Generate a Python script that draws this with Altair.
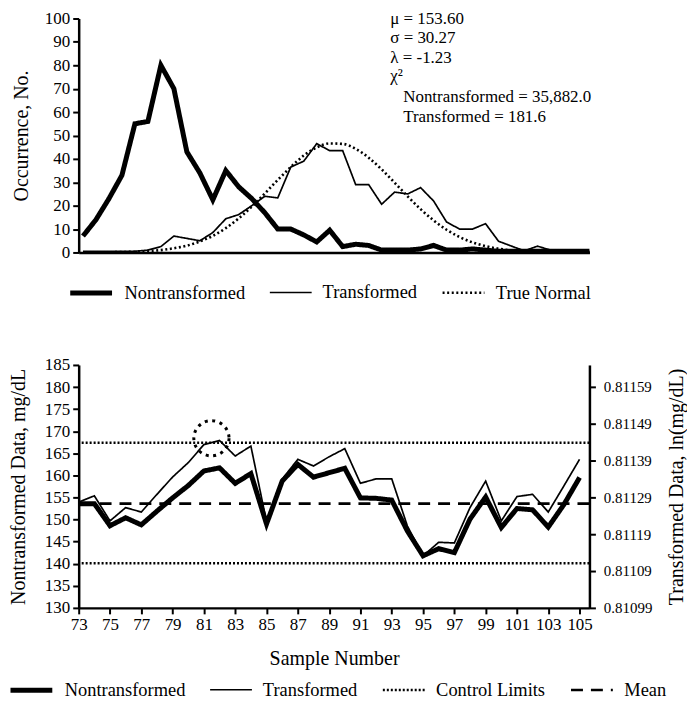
import altair as alt
import pandas as pd

FONT = "Liberation Serif"

# ---------------- top panel data ----------------
BINS = list(range(1, 41))
NONTRANSFORMED = [7, 14, 23, 33, 55, 56, 80, 70, 43, 34,
                  22.5, 35, 28, 23, 17, 10, 10, 7.5, 4.5, 9.5,
                  2.5, 3.5, 3, 1, 1, 1, 1.5, 3, 1, 1,
                  1.5, 1, 0.5, 0.5, 0.5, 0.5, 0.5, 0.5, 0.5, 0.5]
TRANSFORMED = [0.5, 0.5, 0.5, 0.5, 0.5, 1, 2.5, 7, 6, 5,
               8.5, 14.4, 16.2, 20, 24, 23.3, 36.5, 39, 46.5, 43.5,
               43.5, 29, 29, 20.6, 25.8, 25, 27.7, 22, 13, 10,
               10, 12.3, 4.8, 2.7, 0.7, 2.7, 1, 0.5, 0.5, 0.5]
TRUE_NORMAL = [0.1, 0.1, 0.1, 0.2, 0.3, 0.6, 1.0, 1.8, 2.9, 4.7,
               7.1, 10.4, 14.6, 19.6, 25.2, 31.0, 36.5, 41.4, 44.9, 46.6,
               46.4, 44.3, 40.5, 35.5, 29.8, 24.0, 18.5, 13.7, 9.7, 6.6,
               4.3, 2.7, 1.6, 0.9, 0.5, 0.3, 0.2, 0.1, 0.1, 0.1]
TOP_SERIES = ["Nontransformed", "Transformed", "True Normal"]
TOP_Y_TICKS = [0, 10, 20, 30, 40, 50, 60, 70, 80, 90, 100]
STATS_LINES = ["μ = 153.60", "σ = 30.27", "λ = -1.23", "χ²",
               "Nontransformed = 35,882.0", "Transformed = 181.6"]

# ---------------- bottom panel data ----------------
SAMPLES = list(range(73, 106))
NT_DATA = [153.6, 153.6, 148.6, 150.4, 148.8, 151.9, 154.9, 157.7, 161.0, 161.7,
           158.2, 160.4, 149.0, 158.7, 162.5, 159.6, 160.6, 161.6, 154.9, 154.8,
           154.4, 147.4, 141.8, 143.4, 142.5, 150.1, 155.1, 148.2, 152.5, 152.2,
           148.3, 153.4, 159.5]
T_DATA = [0.811277, 0.811294, 0.811226, 0.811262, 0.811250, 0.811298, 0.811345,
          0.811384, 0.811433, 0.811444, 0.811402, 0.811429, 0.811224, 0.811339,
          0.811393, 0.811375, 0.811400, 0.811422, 0.811328, 0.811340, 0.811340,
          0.811212, 0.811131, 0.811168, 0.811166, 0.811262, 0.811334, 0.811226,
          0.811292, 0.811298, 0.811250, 0.811321, 0.811393]
MEAN_VALUE = [153.6]
CONTROL_LIMITS = [167.4, 140.1]
FLAG_SAMPLE = [81.48]
FLAG_VALUE = [168.4]
BOTTOM_SERIES = ["Nontransformed", "Transformed", "Control Limits", "Mean"]
X_TICKS = list(range(73, 106, 2))
LEFT_TICKS = list(range(130, 186, 5))
RIGHT_TICKS = [0.81099, 0.81109, 0.81119, 0.81129, 0.81139, 0.81149, 0.81159]

W = 513
H_TOP = 235
H_BOT = 244


def make_legend(lx, ly):
    return alt.Legend(title=None, orient="none", legendX=lx, legendY=ly,
                      direction="horizontal", symbolType="stroke", symbolSize=1764,
                      symbolStrokeColor="black", labelFont=FONT, labelFontSize=18.5,
                      labelColor="black", labelOffset=10, columnPadding=20,
                      padding=0)


# ---------------- top chart ----------------
top_lines_df = pd.DataFrame({
    "bin": BINS + BINS,
    "value": NONTRANSFORMED + TRANSFORMED,
    "series": ["Nontransformed"] * len(BINS) + ["Transformed"] * len(BINS),
})
normal_df = pd.DataFrame({"bin": BINS, "value": TRUE_NORMAL, "series": "True Normal"})

top_legend = make_legend(-11, 252)
top_sw = alt.StrokeWidth("series:N",
                         scale=alt.Scale(type="ordinal", domain=TOP_SERIES, range=[5, 1.7, 2.6]),
                         legend=top_legend)
top_sd = alt.StrokeDash("series:N", scale=alt.Scale(domain=TOP_SERIES,
                                                    range=[[1, 0], [1, 0], [2, 2.6]]),
                        legend=top_legend)
x_top = alt.X("bin:Q", scale=alt.Scale(domain=[0.67, 40], nice=False, zero=False),
              axis=alt.Axis(title=None, labels=False, ticks=False))
y_top = alt.Y("value:Q", scale=alt.Scale(domain=[0, 100], nice=False),
              axis=alt.Axis(title="Occurrence, No.", values=TOP_Y_TICKS, titlePadding=13))

top_lines = alt.Chart(top_lines_df).mark_line(color="black", strokeJoin="miter").encode(
    x=x_top, y=y_top, strokeWidth=top_sw, strokeDash=top_sd)
top_normal = alt.Chart(normal_df).mark_line(color="black", interpolate="monotone").encode(
    x=x_top, y=y_top, strokeWidth=top_sw, strokeDash=top_sd)

ann_pos = [(313, 0.5), (313, 20.0), (313, 39.5), (313, 58.0), (326, 79.0), (326, 98.5)]
ann_layers = []
for line, (ax, ay) in zip(STATS_LINES, ann_pos):
    ann_layers.append(
        alt.Chart(pd.DataFrame({"t": [line]})).mark_text(
            align="left", baseline="middle", font=FONT, fontSize=17, color="black"
        ).encode(x=alt.value(ax), y=alt.value(ay), text="t:N")
    )

top = alt.layer(top_lines, top_normal, *ann_layers).properties(width=W, height=H_TOP)

# ---------------- bottom chart ----------------
nt_df = pd.DataFrame({"sample": SAMPLES, "value": NT_DATA, "series": "Nontransformed"})
t_df = pd.DataFrame({"sample": SAMPLES, "value": T_DATA, "series": "Transformed"})
lim_df = pd.DataFrame({"value": CONTROL_LIMITS, "series": "Control Limits"})
mean_df = pd.DataFrame({"value": MEAN_VALUE, "series": "Mean"})
flag_df = pd.DataFrame({"sample": FLAG_SAMPLE, "value": FLAG_VALUE})

bot_legend = make_legend(-71, 303)
bot_sw = alt.StrokeWidth("series:N",
                         scale=alt.Scale(type="ordinal", domain=BOTTOM_SERIES,
                                         range=[5, 1.7, 2.4, 2.6]),
                         legend=bot_legend)
bot_sd = alt.StrokeDash("series:N", scale=alt.Scale(domain=BOTTOM_SERIES,
                                                    range=[[1, 0], [1, 0], [2, 2], [12, 8]]),
                        legend=bot_legend)
x_bot = alt.X("sample:Q", scale=alt.Scale(domain=[73, 105.63], nice=False, zero=False),
              axis=alt.Axis(title="Sample Number", values=X_TICKS, titlePadding=16,
                            labelPadding=3, labelFlush=False))
y_left = alt.Y("value:Q", scale=alt.Scale(domain=[130, 185], nice=False, zero=False),
               axis=alt.Axis(title="Nontransformed Data, mg/dL", values=LEFT_TICKS,
                             titlePadding=16))
y_right = alt.Y("value:Q", scale=alt.Scale(domain=[0.81099, 0.811649], nice=False, zero=False),
                axis=alt.Axis(title="Transformed Data, ln(mg/dL)", orient="right",
                              values=RIGHT_TICKS, format=".5f", titleAngle=270,
                              titleBaseline="top", titlePadding=15, labelFontSize=15,
                              labelPadding=8))

limits = alt.Chart(lim_df).mark_rule(color="black").encode(
    y=y_left, strokeWidth=bot_sw, strokeDash=bot_sd, detail="value:Q")
mean_rule = alt.Chart(mean_df).mark_rule(color="black").encode(
    y=y_left, strokeWidth=bot_sw, strokeDash=bot_sd)
nt_line = alt.Chart(nt_df).mark_line(color="black").encode(
    x=x_bot, y=y_left, strokeWidth=bot_sw, strokeDash=bot_sd)
flag = alt.Chart(flag_df).mark_point(
    shape="circle", size=1250, filled=False, color="black", strokeWidth=3,
    strokeDash=[3, 4.6], opacity=1
).encode(x=x_bot, y=y_left)
left_layer = alt.layer(limits, mean_rule, nt_line, flag)

t_line = alt.Chart(t_df).mark_line(color="black").encode(
    x=x_bot, y=y_right, strokeWidth=bot_sw, strokeDash=bot_sd)

bottom = alt.layer(left_layer, t_line).resolve_scale(y="independent").properties(
    width=W, height=H_BOT)

chart = alt.vconcat(top, bottom, spacing=53).resolve_scale(
    strokeDash="independent", strokeWidth="independent", x="independent"
).resolve_legend(
    strokeDash="independent", strokeWidth="independent"
).properties(
    padding=0, background="white"
).configure_view(
    stroke=None
).configure_axis(
    labelFont=FONT, titleFont=FONT, labelColor="black", titleColor="black",
    domainColor="black", tickColor="black", grid=False, labelFontSize=17,
    titleFontSize=20, titleFontWeight="normal", domainWidth=2.5, tickWidth=2,
    tickSize=6, labelPadding=3
)

chart.save("out.html", embed_options={"renderer": "svg", "actions": False})
